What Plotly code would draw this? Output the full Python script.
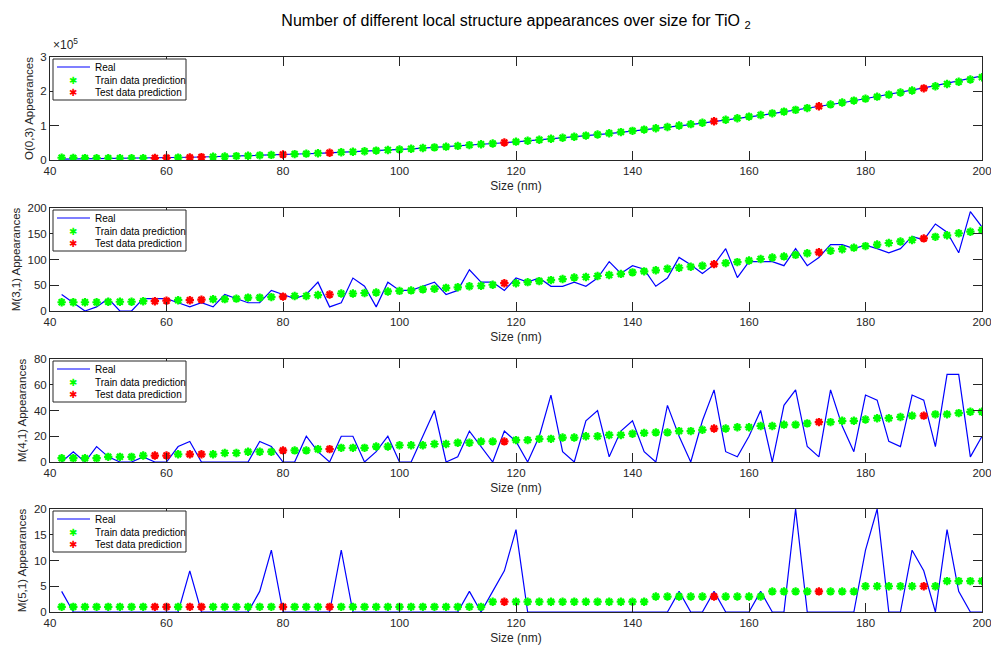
import plotly.graph_objects as go

# ---------------- data ----------------
sizes = list(range(42, 201, 2))
test_sizes = [58, 60, 64, 66, 80, 88, 118, 154, 172, 190]

o03_real = [2270, 2610, 2980, 3380, 3830, 4300, 4820, 5370, 5970, 6610,
            7290, 8020, 8800, 9620, 10500, 11420, 12400, 13430, 14520, 15670,
            16870, 18140, 19460, 20850, 22310, 23830, 25420, 27070, 28800, 30600,
            32470, 34420, 36450, 38550, 40730, 42990, 45330, 47760, 50280, 52880,
            55560, 58340, 61210, 64170, 67230, 70380, 73630, 76970, 80420, 83970,
            87620, 91370, 95230, 99200, 103280, 107460, 111760, 116170, 120700, 125340,
            130100, 134970, 139970, 145090, 150340, 155710, 161200, 166830, 172580, 178460,
            184470, 190620, 196910, 203330, 209890, 216580, 223420, 230400, 237530, 244800]
o03_pred = [6500, 6000, 5600, 5300, 5100, 5000, 5100, 5300, 5700, 6200,
            6900, 7600, 8500, 9400, 10400, 11400, 12500, 13600, 14800, 16000,
            17200, 18500, 19800, 21200, 22600, 24100, 25700, 27400, 29100, 30900,
            32800, 34800, 36800, 38900, 41100, 43400, 45800, 48200, 50800, 53400,
            56100, 58900, 61800, 64800, 67900, 71100, 74400, 77800, 81300, 84900,
            88600, 92400, 96300, 100300, 104400, 108600, 112900, 117300, 121800, 126400,
            131100, 135900, 140900, 146000, 151200, 156500, 161900, 167400, 173000, 178700,
            184500, 190400, 196400, 202500, 208700, 215000, 221400, 227900, 234500, 241200]

m31_real = [32, 16, 0, 8, 24, 0, 0, 24, 24, 24,
            16, 8, 16, 8, 32, 24, 16, 16, 40, 32,
            24, 32, 56, 8, 16, 64, 48, 8, 56, 40,
            40, 48, 56, 32, 40, 80, 56, 56, 40, 64,
            56, 64, 48, 48, 56, 48, 64, 96, 73, 88,
            81, 48, 64, 104, 90, 73, 90, 121, 65, 96,
            96, 96, 88, 121, 88, 104, 129, 129, 121, 128,
            121, 113, 121, 145, 138, 169, 153, 113, 193, 163]
m31_pred = [17, 17, 17, 17, 18, 18, 18, 19, 19, 20,
            21, 21, 22, 23, 23, 24, 26, 26, 27, 28,
            29, 29, 31, 32, 34, 34, 35, 36, 38, 39,
            40, 42, 43, 45, 46, 48, 49, 51, 54, 54,
            56, 58, 60, 62, 65, 66, 68, 70, 72, 75,
            77, 79, 82, 84, 86, 88, 91, 93, 95, 98,
            101, 104, 106, 109, 112, 114, 117, 120, 123, 126,
            129, 132, 135, 138, 141, 144, 147, 151, 154, 157]

m41_real = [0, 8, 0, 12, 4, 0, 0, 4, 0, 0,
            12, 16, 0, 0, 0, 0, 0, 16, 12, 0,
            0, 20, 8, 0, 20, 20, 0, 8, 20, 0,
            0, 20, 40, 0, 4, 24, 12, 0, 24, 16,
            0, 20, 52, 8, 0, 32, 40, 4, 24, 32,
            8, 0, 44, 20, 0, 32, 56, 8, 4, 20,
            40, 0, 44, 56, 12, 4, 56, 28, 8, 52,
            48, 16, 12, 52, 48, 12, 68, 68, 4, 20]
m41_pred = [3, 3, 3, 3, 4, 4, 4, 5, 5, 5,
            6, 6, 6, 6, 7, 7, 8, 8, 8, 9,
            9, 9, 10, 10, 11, 11, 11, 12, 12, 13,
            13, 13, 14, 14, 15, 15, 16, 16, 16, 17,
            17, 18, 18, 19, 19, 20, 20, 21, 21, 22,
            22.6, 23, 23, 24, 24, 25, 26, 26, 27, 27,
            28, 28, 29, 29, 30, 31, 31, 32, 32, 33,
            34, 34, 35, 36, 36, 37, 37, 38, 39, 39]

m51_real = [4, 0, 0, 0, 0, 0, 0, 0, 0, 0,
            0, 8, 0, 0, 0, 0, 0, 4, 12, 0,
            0, 0, 0, 0, 12, 0, 0, 0, 0, 0,
            0, 0, 0, 0, 0, 4, 0, 4, 8, 16,
            0, 0, 0, 0, 0, 0, 0, 0, 0, 0,
            0, 0, 0, 4, 0, 0, 4, 0, 0, 0,
            4, 0, 0, 20, 0, 0, 0, 0, 0, 12,
            20, 0, 0, 12, 8, 0, 16, 4, 0, 0]
m51_pred = [1, 1, 1, 1, 1, 1, 1, 1, 1, 1,
            1, 1, 1, 1, 1, 1, 1, 1, 1, 1,
            1, 1, 1, 1, 1, 1, 1, 1, 1, 1,
            1, 1, 1, 1, 1, 1, 1, 2, 2, 2,
            2, 2, 2, 2, 2, 2, 2, 2, 2, 2,
            2, 3, 3, 3, 3, 3, 3, 3, 3, 3,
            3, 4, 4, 4, 4, 4, 4, 4, 4, 5,
            5, 5, 5, 5, 5, 5, 6, 6, 6, 6]

y_titles = ["O(0,3) Appearances", "M(3,1) Appearances", "M(4,1) Appearances", "M(5,1) Appearances"]
y_ranges = [[0, 300000], [0, 200], [0, 80], [0, 20]]
y_tickvals = [[0, 100000, 200000, 300000], [0, 50, 100, 150, 200], [0, 20, 40, 60, 80], [0, 5, 10, 15, 20]]
y_ticktext = [["0", "1", "2", "3"], ["0", "50", "100", "150", "200"],
              ["0", "20", "40", "60", "80"], ["0", "5", "10", "15", "20"]]
x_ticks = [40, 60, 80, 100, 120, 140, 160, 180, 200]
legend_labels = ["Real", "Train data prediction", "Test data prediction"]
colors = {"real": "#0000ff", "train": "#00ff00", "test": "#ff0000"}

title_text = "Number of different local structure appearances over size for TiO <sub>2</sub>"

series = [(o03_real, o03_pred), (m31_real, m31_pred), (m41_real, m41_pred), (m51_real, m51_pred)]

# ---------------- layout geometry ----------------
W, H = 991, 646
ml, mr, mt, mb = 50, 9, 57, 34
plot_w = W - ml - mr
plot_h = H - mt - mb
tops_px = [57, 208, 359, 509]
bots_px = [160, 311, 462, 612]


def py(p):
    return (H - mb - p) / plot_h


def px(p):
    return (p - ml) / plot_w


domains = [[py(b), py(t)] for t, b in zip(tops_px, bots_px)]

fig = go.Figure()
font_family = "Liberation Sans, Arial, Helvetica, sans-serif"
axis_col = "#262626"
shapes = []
annotations = []

for i, (real, pred) in enumerate(series):
    n = i + 1
    xa = "x" if n == 1 else f"x{n}"
    ya = "y" if n == 1 else f"y{n}"
    train_x = [s for s in sizes if s not in test_sizes]
    train_y = [p for s, p in zip(sizes, pred) if s not in test_sizes]
    test_x = [s for s in sizes if s in test_sizes]
    test_y = [p for s, p in zip(sizes, pred) if s in test_sizes]
    fig.add_trace(go.Scatter(x=sizes, y=real, mode="lines", name=legend_labels[0],
                             line=dict(color=colors["real"], width=1.2),
                             xaxis=xa, yaxis=ya, showlegend=False))
    fig.add_trace(go.Scatter(x=train_x, y=train_y, mode="markers", name=legend_labels[1],
                             marker=dict(symbol="asterisk-open", size=7, color=colors["train"],
                                         line=dict(color=colors["train"], width=2.2)),
                             xaxis=xa, yaxis=ya, showlegend=False))
    fig.add_trace(go.Scatter(x=test_x, y=test_y, mode="markers", name=legend_labels[2],
                             marker=dict(symbol="asterisk-open", size=7, color=colors["test"],
                                         line=dict(color=colors["test"], width=2.2)),
                             xaxis=xa, yaxis=ya, showlegend=False))

    axis_common = dict(showline=True, linecolor=axis_col, linewidth=1, mirror="ticks",
                       ticks="inside", ticklen=9, tickcolor=axis_col, tickwidth=1,
                       showgrid=False, zeroline=False, automargin=False,
                       ticklabeloverflow="allow",
                       tickfont=dict(family=font_family, size=11.5, color=axis_col))
    xkey = "xaxis" if n == 1 else f"xaxis{n}"
    ykey = "yaxis" if n == 1 else f"yaxis{n}"
    fig.update_layout(**{
        xkey: dict(axis_common, domain=[0, 1], range=[40, 200], tickvals=x_ticks,
                   anchor=ya,
                   title=dict(text="Size (nm)", standoff=5,
                              font=dict(family=font_family, size=12, color=axis_col))),
        ykey: dict(axis_common, domain=domains[i], range=y_ranges[i],
                   tickvals=y_tickvals[i], ticktext=y_ticktext[i], anchor=xa,
                   title=dict(text=y_titles[i], standoff=4,
                              font=dict(family=font_family, size=11.5, color=axis_col))),
    })

    # ---- legend box (MATLAB style) ----
    T = tops_px[i]
    shapes.append(dict(type="rect", xref="paper", yref="paper",
                       x0=px(53), x1=px(186), y0=py(T + 43), y1=py(T + 2),
                       line=dict(color=axis_col, width=1), fillcolor="white", layer="above"))
    row_y = [T + 10, T + 23.5, T + 35]
    shapes.append(dict(type="line", xref="paper", yref="paper",
                       x0=px(57), x1=px(90), y0=py(row_y[0]), y1=py(row_y[0]),
                       line=dict(color=colors["real"], width=1.2), layer="above"))
    for k, lab in enumerate(legend_labels):
        annotations.append(dict(text=lab, xref="paper", yref="paper", x=px(93), y=py(row_y[k]),
                                xanchor="left", yanchor="middle", showarrow=False,
                                font=dict(family=font_family, size=10, color="black")))
    for k, key in [(1, "train"), (2, "test")]:
        annotations.append(dict(text="✱", xref="paper", yref="paper", x=px(73), y=py(row_y[k]),
                                xanchor="center", yanchor="middle", showarrow=False,
                                font=dict(family="DejaVu Sans", size=10, color=colors[key])))

annotations.append(dict(text="×10<sup>5</sup>", xref="paper", yref="paper",
                        x=px(51), y=py(54), xanchor="left", yanchor="bottom", showarrow=False,
                        font=dict(family=font_family, size=12, color=axis_col)))

fig.update_layout(
    width=W, height=H,
    margin=dict(l=ml, r=mr, t=mt, b=mb),
    paper_bgcolor="white", plot_bgcolor="white",
    showlegend=False,
    shapes=shapes, annotations=annotations,
    title=dict(text=title_text, x=(ml + 466) / W, xanchor="center", y=1 - 20 / H, yanchor="middle",
               font=dict(family=font_family, size=16, color="black")),
)

fig.write_html("out.html")
